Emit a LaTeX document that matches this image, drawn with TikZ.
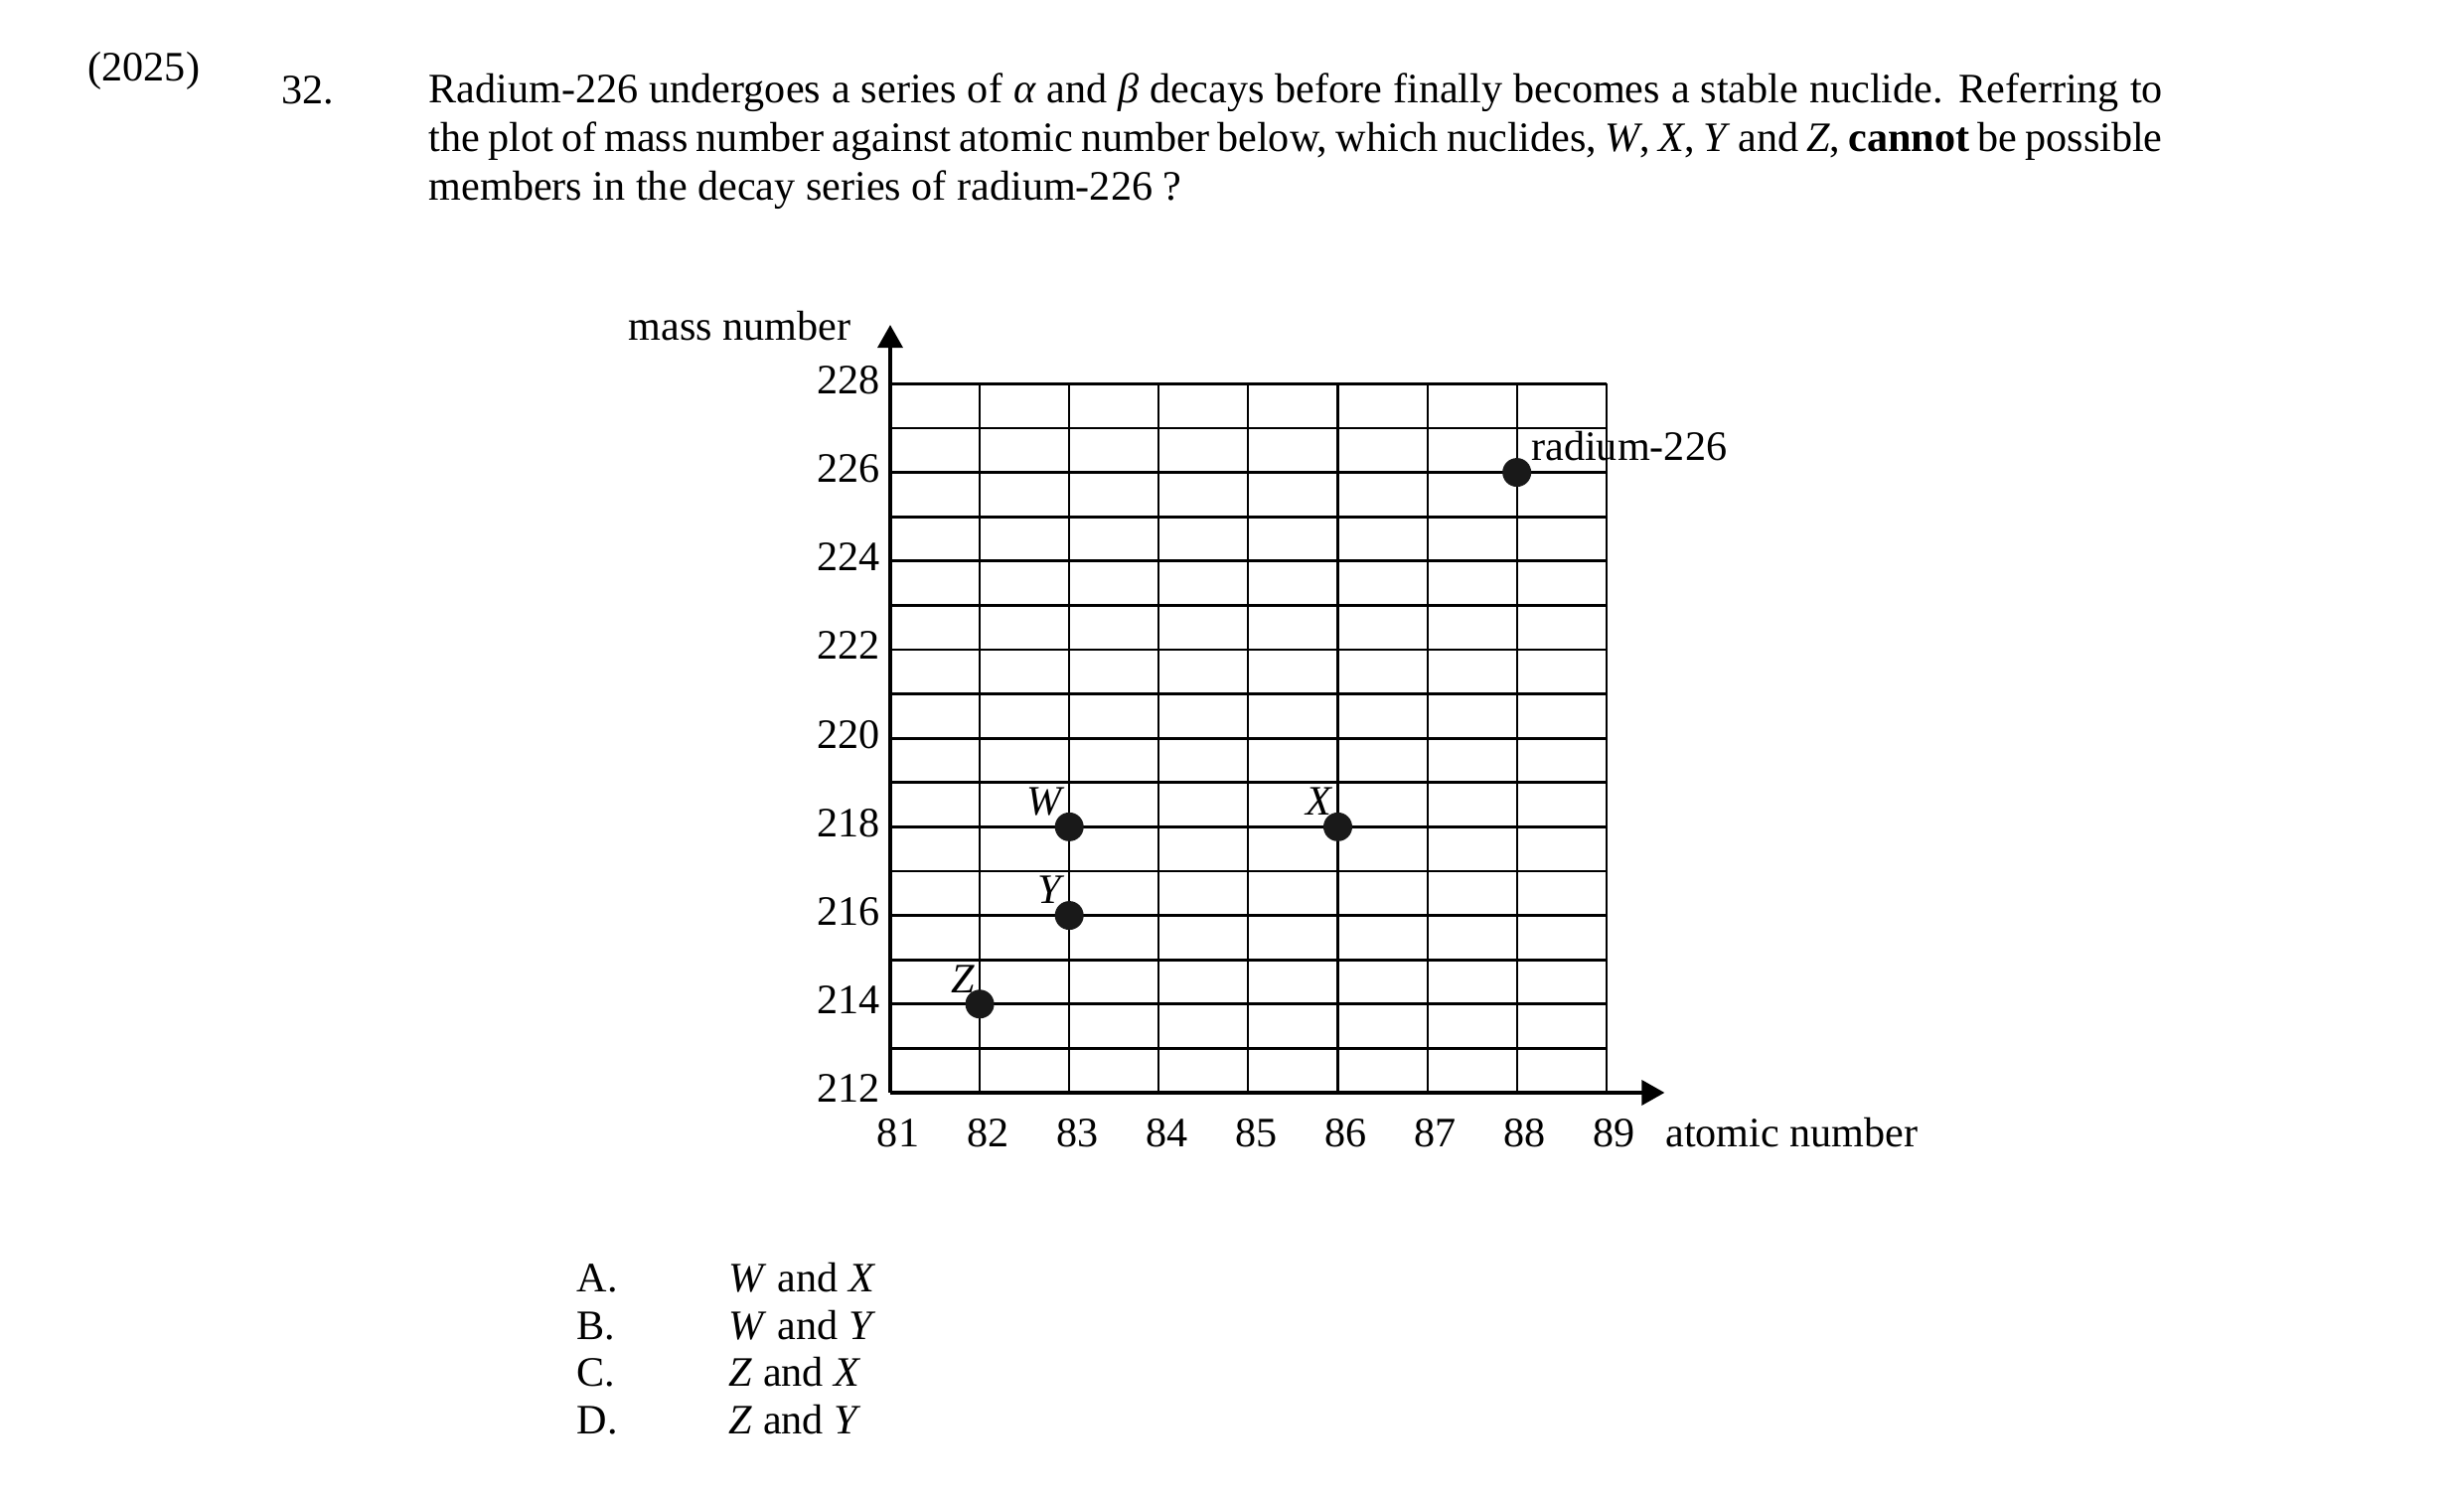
\documentclass[tikz,border=0pt]{standalone}
\usepackage{fontspec}
\setmainfont{Liberation Serif}
\usetikzlibrary{positioning,arrows.meta}
\tikzset{
  txt/.style   = {inner sep=0pt, font=\fontsize{12}{13.9}\selectfont},
  vgrid/.style = {line width=0.6pt},
  hgrid/.style = {line width=0.8pt},
  axis/.style  = {line width=1pt, -{Triangle[length=2.3mm,width=2.5mm]}},
  dot/.style   = {circle, fill=black!90, inner sep=0pt, minimum size=2.9mm},
  nuc/.style   = {txt, anchor=south east}
}

\begin{document}
\begin{tikzpicture}
  \useasboundingbox (-8.96,-4.05) rectangle (15.84,11.00);

  % question
  \node[txt,anchor=base west] (year) at (-8.08,10.18) {(2025)};
  \node[txt,anchor=base west] (qnum) at (-6.13,9.95) {32.};
  \node[txt,anchor=base west,text width=17.45cm,align=justify] (question) at (-4.65,9.96)
    {Radium-226 undergoes a series of \textit{α} and \textit{β} decays before finally becomes a stable nuclide.  Referring to\linebreak
     the plot of mass number against atomic number below, which nuclides, \textit{W}, \textit{X}, \textit{Y} and \textit{Z}, \textbf{cannot} be possible\linebreak
     members in the decay series of radium-226 ?};

  % plot
  \begin{scope}[x=0.901cm,y=0.446cm]
    \foreach \a in {1,...,16} \draw[hgrid] (0,\a) -- (8,\a);
    \foreach \z in {1,...,8} \draw[vgrid] (\z,0) -- (\z,16);
    \coordinate (O) at (0,0);
    \coordinate (xtip) at (8.65,0);
    \coordinate (ytip) at (0,17.33);
    \draw[axis] (O) -- (xtip);
    \draw[axis] (O) -- (ytip);

    \foreach \z in {81,...,89}{
      \pgfmathtruncatemacro\zz{\z-81}
      \node[txt,anchor=north] (t\z) at ([xshift=0.08cm,yshift=-0.26cm]\zz,0) {\z};
    }
    \foreach \a in {212,214,...,228}{
      \pgfmathtruncatemacro\aa{\a-212}
      \node[txt,anchor=east] (m\a) at ([xshift=-0.1cm,yshift=0.04cm]0,\aa) {\a};
    }
    \node[txt,anchor=base west] (zname) at ([xshift=0.29cm]t89.base east) {atomic number};
    \node[txt,anchor=base east] (aname) at ([shift={(-0.39cm,-0.15cm)}]ytip) {mass number};

    % nuclides
    \node[dot] (Ra) at (7,14) {};
    \node[txt,anchor=base west] (labRa) at ([shift={(0.14cm,0.12cm)}]Ra.center) {radium-226};
    \foreach \n/\z/\a in {W/2/6, X/5/6, Y/2/4, Z/1/2}{
      \node[dot] (\n) at (\z,\a) {};
      \node[nuc] (lab\n) at ([shift={(-0.04cm,0.11cm)}]\n.center) {\textit{\n}};
    }
  \end{scope}

  % options
  \foreach \l/\t [count=\i] in {A/{\textit{W} and \textit{X}}, B/{\textit{W} and \textit{Y}},
                                C/{\textit{Z} and \textit{X}}, D/{\textit{Z} and \textit{Y}}}{
    \node[txt,anchor=base west] (opt\l) at (-3.16,{-2.01-0.475*(\i-1)}) {\l.};
    \node[txt,anchor=base west] (ans\l) at (-1.63,{-2.01-0.475*(\i-1)}) {\t};
  }
\end{tikzpicture}
\end{document}
